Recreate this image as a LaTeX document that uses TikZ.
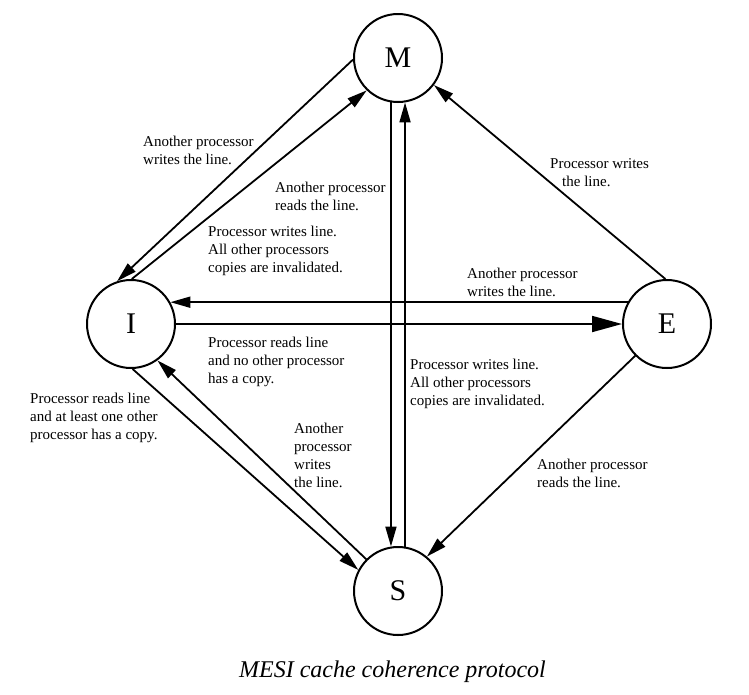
\documentclass[tikz,border=0pt]{standalone}
\usepackage{fontspec}
\setmainfont{Liberation Serif}
\usetikzlibrary{arrows.meta}
\tikzset{
  state/.style={circle, draw, line width=2pt, minimum size=88pt, inner sep=0pt, font=\fontsize{30}{36}\selectfont},
  arr/.style={line width=1.8pt, -{Triangle[length=20pt,width=11pt]}},
  bigarr/.style={line width=1.8pt, -{Triangle[length=30pt,width=16pt]}},
  lbl/.style={anchor=north west, inner sep=0pt, align=left, font=\fontsize{15}{18}\selectfont},
}
\begin{document}
\begin{tikzpicture}[x=1pt,y=-1pt]
\useasboundingbox (0,0) rectangle (749,694);
\node[state] (M) at (398,58) {M};
\node[state] (I) at (131,324) {I};
\node[state] (E) at (667,324) {E};
\node[state] (S) at (398,591) {S};

\draw[arr] (M.182) -- (I.108);
\draw[arr] (I.89) -- (M.226);
\draw[arr] (M.261) -- (S.99);
\draw[arr] (S.81) -- (M.279);
\draw[arr] (E.92) -- (M.323);
\draw[arr] (E.151) -- (I.29);
\draw[bigarr] (I.0) -- (E.180);
\draw[arr] (E.225) -- (S.50);
\draw[arr] (I.272) -- (S.152);
\draw[arr] (S.135) -- (I.306);

\node[lbl] (l1) at (143,136) {Another processor\\writes the line.};
\node[lbl] (l2) at (275,182) {Another processor\\reads the line.};
\node[lbl] (l3) at (208,226) {Processor writes line.\\All other processors\\copies are invalidated.};
\node[lbl] (l4) at (550,158) {Processor writes\\\hspace*{12pt}the line.};
\node[lbl] (l5) at (467,268) {Another processor\\writes the line.};
\node[lbl] (l6) at (208,337) {Processor reads line\\and no other processor\\has a copy.};
\node[lbl] (l7) at (30,393) {Processor reads line\\and at least one other\\processor has a copy.};
\node[lbl] (l8) at (294,423) {Another\\processor\\writes\\the line.};
\node[lbl] (l9) at (410,359) {Processor writes line.\\All other processors\\copies are invalidated.};
\node[lbl] (l10) at (537,459) {Another processor\\reads the line.};

\node[anchor=base, inner sep=0pt, font=\fontsize{24}{28}\selectfont\itshape] (cap) at (392.5,677) {MESI cache coherence protocol};
\end{tikzpicture}
\end{document}
